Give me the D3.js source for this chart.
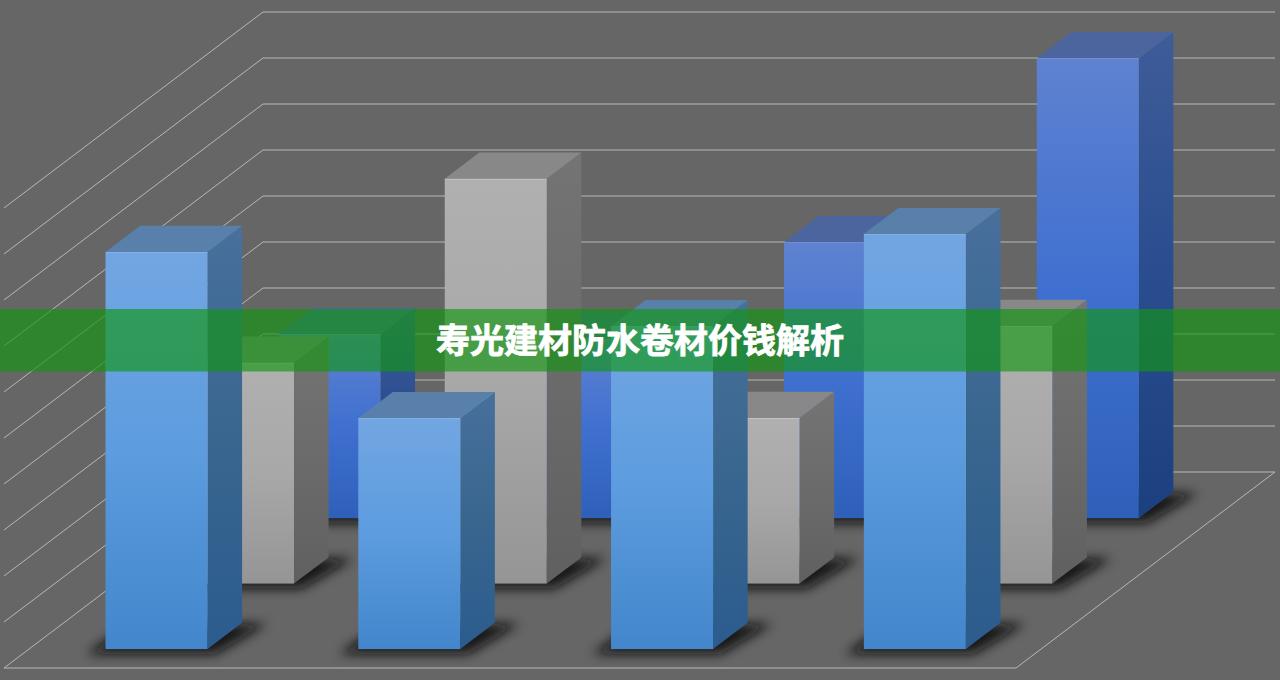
<!DOCTYPE html>
<html>
<head>
<meta charset="utf-8">
<script src="https://cdn.jsdelivr.net/npm/d3@7"></script>
<style>
html,body{margin:0;padding:0;background:#666;overflow:hidden;}
svg{display:block;}
.title{font-family:"Noto Sans CJK SC";font-weight:700;font-size:34px;fill:#fff;stroke:#fff;stroke-width:0.8px;text-anchor:middle;}
</style>
</head>
<body>
<div id="chart"></div>
<script>
const titleText = '寿光建材防水卷材价钱解析';
const categories = ['A','B','C','D'];
const seriesNames = ['front','middle','back'];
const frontValues = [8.63,5.02,7.02,9.02];
const middleValues = [4.8,8.8,3.6,5.6];
const backValues = [4.0,3.9,6.0,10.0];
const gridTicks = [0,1,2,3,4,5,6,7,8,9,10];

const width = 1280, height = 680;
const floor = {left:4,right:1016,front:668,depth:196,skew:259/196};

const svg = d3.select('#chart').append('svg').attr('width',width).attr('height',height);
const defs = svg.append('defs');

//x along the floor, z into the picture, y up the wall
const xScale = d3.scaleBand().domain(categories).range([floor.left+0.6,floor.right+0.6])
                .paddingInner(0.5965).paddingOuter(0.3);
const zScale = d3.scaleBand().domain(seriesNames).range([0,195])
                .paddingInner(0.6).paddingOuter(0.29);
const yScale = d3.scaleLinear().domain([0,10]).range([0,460]);

const px = (x,z) => x + z*floor.skew;
const py = (z,h) => floor.front - z - h;
const pts = a => a.map(p => p.join(',')).join(' ');

const colors = {
    front:{face:['#72a6e2','#5c9cdf','#4386cb'],side:['#47709c','#39668f','#2b5c8e'],top:'#5980aa',edge:'#8fbcec'},
    middle:{face:['#b0b0b0','#a8a8a8','#959595'],side:['#747474','#6b6b6b','#606060'],top:'#888888',edge:'#cfcfcf'},
    back:{face:['#5f82d0','#3f70d0','#2e60ba'],side:['#3e5c98','#2a4d90','#1c3f7f'],top:'#4d659e',edge:'#7b9adf'}
};

function addGradient(id,stops){
    const g = defs.append('linearGradient').attr('id',id)
                .attr('x1',0).attr('y1',0).attr('x2',0).attr('y2',1);
    g.append('stop').attr('offset','0%').attr('stop-color',stops[0]);
    g.append('stop').attr('offset','50%').attr('stop-color',stops[1]);
    g.append('stop').attr('offset','100%').attr('stop-color',stops[2]);
}
seriesNames.forEach(s => {
    addGradient('face-'+s,colors[s].face);
    addGradient('side-'+s,colors[s].side);
});

defs.append('filter').attr('id','soft')
    .attr('x','-30%').attr('y','-60%').attr('width','160%').attr('height','220%')
    .append('feGaussianBlur').attr('stdDeviation',6);

//gridlines
const grid = svg.append('g').attr('fill','none').attr('stroke','#b8b8b8').attr('stroke-width',1);
grid.selectAll('.wall').data(gridTicks).enter().append('polyline')
    .attr('class','wall')
    .attr('points',d => pts([
        [floor.left,py(0,yScale(d))],
        [px(floor.left,floor.depth),py(floor.depth,yScale(d))],
        [px(floor.right,floor.depth),py(floor.depth,yScale(d))]
    ]));
grid.append('polyline').attr('points',pts([
    [floor.left,floor.front],[floor.right,floor.front],
    [px(floor.right,floor.depth),floor.front-floor.depth]
]));

//bars
const rows = [
    {name:'back',values:backValues},
    {name:'middle',values:middleValues},
    {name:'front',values:frontValues}
];

rows.forEach(row => {
    const z0 = zScale(row.name), dz = zScale.bandwidth(), w = xScale.bandwidth();
    const layer = svg.append('g').attr('class','row-'+row.name);
    const bars = row.values.map((v,i) => ({x:xScale(categories[i]),h:yScale(v)}));

    layer.selectAll('.shadow').data(bars).enter().append('polygon')
        .attr('class','shadow')
        .attr('fill','#080808')
        .attr('fill-opacity',0.9)
        .attr('filter','url(#soft)')
        .attr('points',d => pts([
            [px(d.x,z0)-19,py(z0,0)+5],
            [px(d.x+w,z0)+8,py(z0,0)+5],
            [px(d.x+w,z0+dz)+25,py(z0+dz,0)+1],
            [px(d.x,z0+dz)-10,py(z0+dz,0)+1]
        ]));

    const bar = layer.selectAll('.bar').data(bars).enter().append('g').attr('class','bar');
    bar.append('polygon').attr('fill',`url(#side-${row.name})`)
        .attr('points',d => pts([
            [px(d.x+w,z0),py(z0,d.h)],
            [px(d.x+w,z0+dz),py(z0+dz,d.h)],
            [px(d.x+w,z0+dz),py(z0+dz,0)],
            [px(d.x+w,z0),py(z0,0)]
        ]));
    bar.append('polygon').attr('fill',colors[row.name].top)
        .attr('points',d => pts([
            [px(d.x,z0),py(z0,d.h)],
            [px(d.x,z0+dz),py(z0+dz,d.h)],
            [px(d.x+w,z0+dz),py(z0+dz,d.h)],
            [px(d.x+w,z0),py(z0,d.h)]
        ]));
    bar.append('rect').attr('fill',`url(#face-${row.name})`)
        .attr('x',d => px(d.x,z0)).attr('y',d => py(z0,d.h))
        .attr('width',w).attr('height',d => d.h);
    bar.append('line').attr('stroke',colors[row.name].edge).attr('stroke-opacity',0.6)
        .attr('x1',d => px(d.x,z0)).attr('x2',d => px(d.x+w,z0))
        .attr('y1',d => py(z0,d.h)+0.5).attr('y2',d => py(z0,d.h)+0.5);
});

//title band
svg.append('rect').attr('x',0).attr('y',309).attr('width',width).attr('height',62.5)
    .attr('fill','rgb(17,150,17)').attr('fill-opacity',0.65);
svg.append('text').attr('class','title').attr('x',640).attr('y',353).text(titleText);
</script>
</body>
</html>
